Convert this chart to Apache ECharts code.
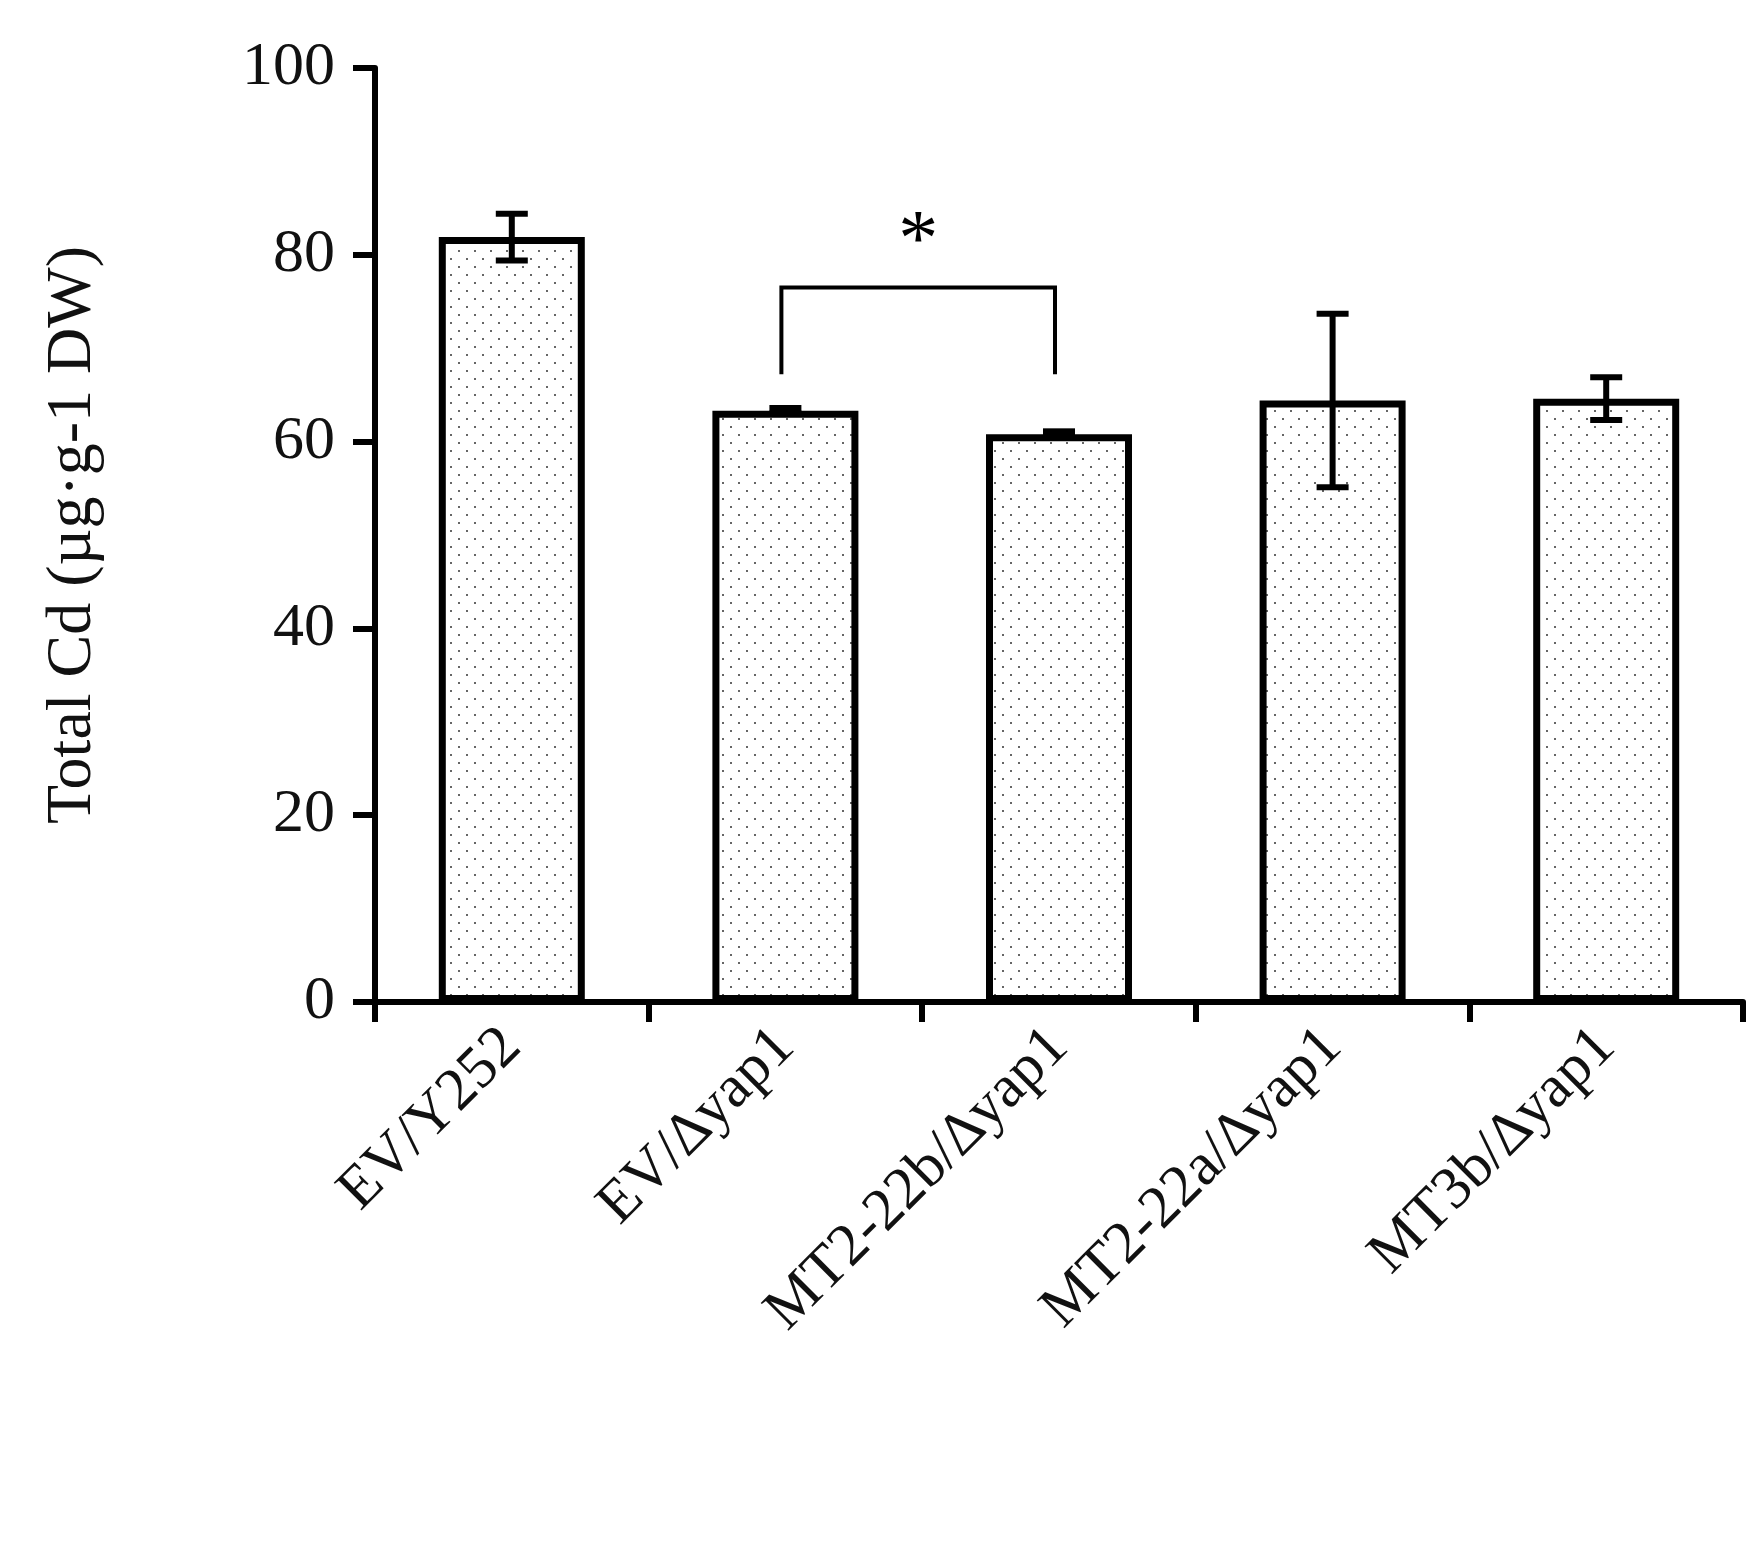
<!DOCTYPE html>
<html><head><meta charset="utf-8">
<script src="https://cdn.jsdelivr.net/npm/echarts@6/dist/echarts.min.js"></script>
<style>html,body{margin:0;background:#fff}#c{width:1760px;height:1546px}</style>
</head><body><div id="c"></div>
<script>
var categories = ['EV/Y252', 'EV/\u2206yap1', 'MT2-22b/\u2206yap1', 'MT2-22a/\u2206yap1', 'MT3b/\u2206yap1'];
var means = [81.9, 63.3, 60.8, 64.4, 64.6];
var errors = [2.5, 0.3, 0.3, 9.3, 2.3];
var yTicks = [0, 20, 40, 60, 80, 100];
// significance bracket: [fromIndex, toIndex, lowY, topY, label]
var brackets = [[1, 2, 67.2, 76.5, '*']];

var font = 'Liberation Serif';

// dotted fill
var pc = document.createElement('canvas');
pc.width = 16; pc.height = 16;
var px = pc.getContext('2d');
px.fillStyle = '#fff'; px.fillRect(0, 0, 16, 16);
px.fillStyle = '#666';
px.fillRect(2, 2, 2, 2);
px.fillRect(10, 10, 2, 2);

var chart = echarts.init(document.getElementById('c'));
chart.setOption({
  animation: false,
  grid: {left: 375, right: 17, top: 68, bottom: 544},
  xAxis: {
    type: 'category', data: categories,
    axisLine: {lineStyle: {color: '#000', width: 6}},
    axisTick: {show: true, length: 20, lineStyle: {width: 6, color: '#000'}},
    axisLabel: {rotate: 45, fontFamily: font, fontSize: 60, color: '#111', margin: 36}
  },
  yAxis: {
    type: 'value', min: 0, max: 100, interval: 20,
    name: 'Total Cd (\u00b5g\u00b7g-1 DW)', nameLocation: 'middle', nameGap: 270,
    nameTextStyle: {fontFamily: font, fontSize: 64, color: '#111'},
    axisLine: {show: true, lineStyle: {color: '#000', width: 6}},
    axisTick: {show: true, length: 22, lineStyle: {width: 6, color: '#000'}},
    axisLabel: {fontFamily: font, fontSize: 62, color: '#111', margin: 40,
      formatter: function (v) { return yTicks.indexOf(v) >= 0 ? v : ''; }},
    splitLine: {show: false}
  },
  series: [{
    type: 'bar', data: means, barWidth: 146,
    itemStyle: {color: {image: pc, repeat: 'repeat'}, borderColor: '#000', borderWidth: 7}
  }, {
    type: 'custom',
    data: means.map(function (m, i) { return [i, m - errors[i], m + errors[i]]; }),
    renderItem: function (params, api) {
      var lo = api.coord([api.value(0), api.value(1)]);
      var hi = api.coord([api.value(0), api.value(2)]);
      var w = 16, s = {stroke: '#000', lineWidth: 6};
      return {type: 'group', children: [
        {type: 'line', shape: {x1: lo[0], y1: lo[1], x2: hi[0], y2: hi[1]}, style: s},
        {type: 'line', shape: {x1: lo[0] - w, y1: lo[1], x2: lo[0] + w, y2: lo[1]}, style: s},
        {type: 'line', shape: {x1: hi[0] - w, y1: hi[1], x2: hi[0] + w, y2: hi[1]}, style: s}
      ]};
    }, z: 5
  }, {
    type: 'custom', data: brackets,
    renderItem: function (params, api) {
      var a = api.coord([api.value(0), api.value(2)]);
      var b = api.coord([api.value(1), api.value(2)]);
      var t = api.coord([api.value(0), api.value(3)])[1];
      var s = {stroke: '#000', lineWidth: 4, fill: null};
      return {type: 'group', children: [
        {type: 'polyline', shape: {points: [[a[0] - 4, a[1]], [a[0] - 4, t], [b[0] - 4, t], [b[0] - 4, b[1]]]}, style: s},
        {type: 'text', style: {text: brackets[params.dataIndex][4], x: (a[0] + b[0]) / 2 - 4, y: t - 4,
          align: 'center', verticalAlign: 'bottom', font: '80px ' + font, fill: '#000'}}
      ]};
    }, z: 5
  }]
});
</script></body></html>
